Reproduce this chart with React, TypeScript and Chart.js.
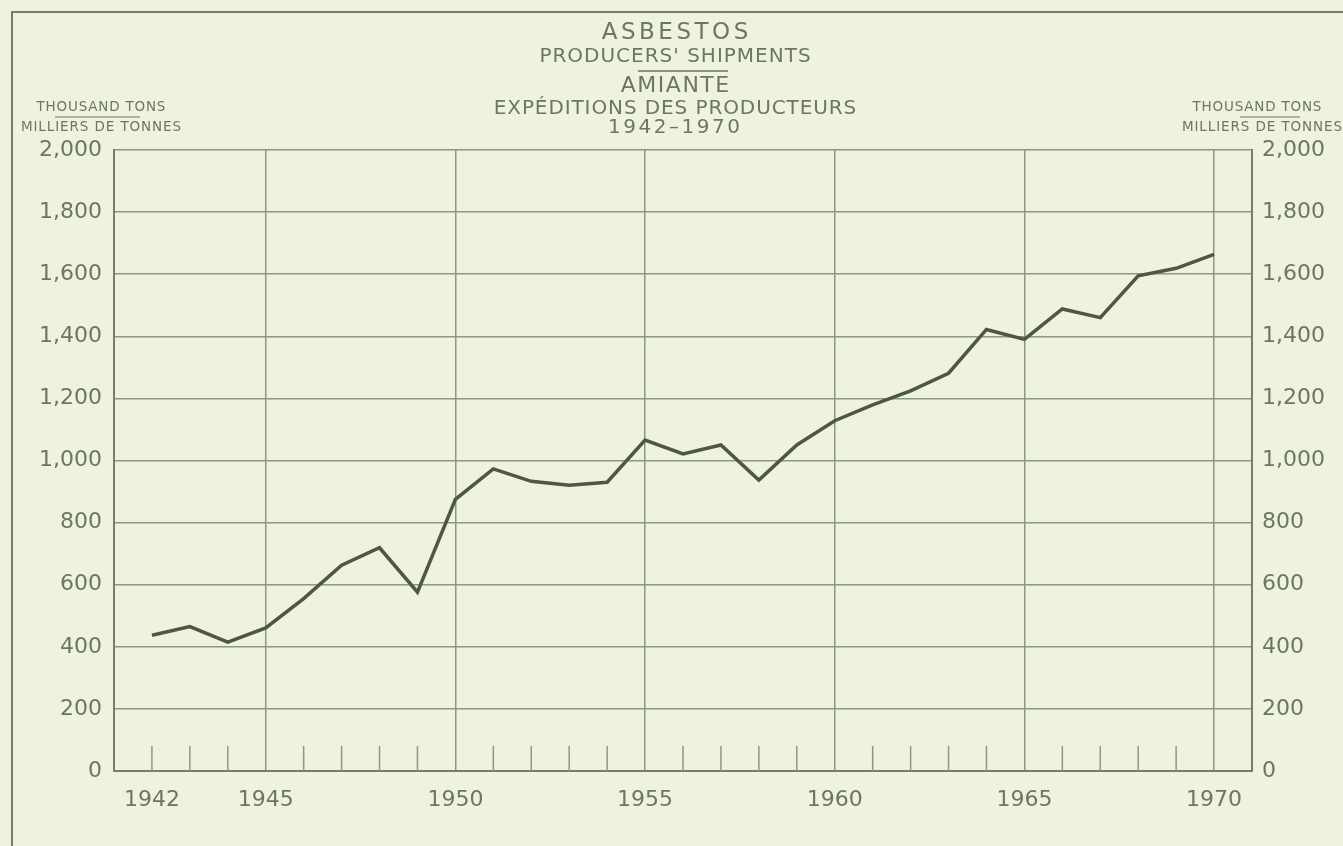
import React, { useEffect, useRef } from "react";
import { Chart, registerables } from "chart.js";

Chart.register(...registerables);

// ---- Data ----
const years = [
  1942, 1943, 1944, 1945, 1946, 1947, 1948, 1949, 1950, 1951,
  1952, 1953, 1954, 1955, 1956, 1957, 1958, 1959, 1960, 1961,
  1962, 1963, 1964, 1965, 1966, 1967, 1968, 1969, 1970,
];
const shipments = [
  437, 465, 415, 461, 555, 663, 719, 576, 875, 973,
  933, 920, 930, 1066, 1021, 1050, 937, 1050, 1128, 1179,
  1224, 1281, 1422, 1390, 1488, 1460, 1595, 1619, 1664,
];
const yTicks = [0, 200, 400, 600, 800, 1000, 1200, 1400, 1600, 1800, 2000];
const xLabelYears = [1942, 1945, 1950, 1955, 1960, 1965, 1970];
const majorGridYears = [1945, 1950, 1955, 1960, 1965, 1970];
const titleLines = [
  "ASBESTOS",
  "PRODUCERS' SHIPMENTS",
  "AMIANTE",
  "EXPÉDITIONS DES PRODUCTEURS",
  "1942–1970",
];
const unitLines = ["THOUSAND TONS", "MILLIERS DE TONNES"];

// ---- Styles ----
const FONT = "'DejaVu Sans', 'Liberation Sans', sans-serif";
const BG = "#eff2de";
const TEXT = "#6a7863";
const GRID = "#8c9886";
const FRAME = "#72806b";
const LINE = "#4c5747";

const decorPlugin = {
  id: "decor",
  beforeDraw(chart: any) {
    const ctx = chart.ctx;
    ctx.save();
    ctx.fillStyle = BG;
    ctx.fillRect(0, 0, chart.width, chart.height);
    // outer frame (left & top edges visible)
    ctx.strokeStyle = FRAME;
    ctx.lineWidth = 2;
    ctx.beginPath();
    ctx.moveTo(12, chart.height);
    ctx.lineTo(12, 12);
    ctx.lineTo(chart.width, 12);
    ctx.stroke();
    ctx.restore();
  },
  beforeDatasetsDraw(chart: any) {
    // short year tick marks rising from the base line
    const ctx = chart.ctx;
    const xs = chart.scales.x;
    const bottom = chart.chartArea.bottom;
    ctx.save();
    ctx.strokeStyle = GRID;
    ctx.lineWidth = 1.5;
    years.forEach((yr) => {
      if (majorGridYears.includes(yr)) return;
      const px = xs.getPixelForValue(yr);
      ctx.beginPath();
      ctx.moveTo(px, bottom);
      ctx.lineTo(px, bottom - 25);
      ctx.stroke();
    });
    ctx.restore();
  },
  afterDraw(chart: any) {
    const ctx = chart.ctx;
    ctx.save();
    ctx.fillStyle = TEXT;
    ctx.strokeStyle = TEXT;
    ctx.textAlign = "center";
    ctx.textBaseline = "middle";
    const put = (t: string, x: number, y: number, size: number, sp: number) => {
      ctx.font = `${size}px ${FONT}`;
      (ctx as any).letterSpacing = `${sp}px`;
      ctx.fillText(t, x + sp / 2, y);
    };
    const cx = 675;
    put(titleLines[0], cx, 33, 23, 3.5);
    put(titleLines[1], cx, 57, 20, 1);
    put(titleLines[2], cx, 86, 22, 1.5);
    put(titleLines[3], cx, 109, 20, 0.9);
    put(titleLines[4], 674, 128, 20, 2.5);
    ctx.lineWidth = 1.5;
    ctx.beginPath();
    ctx.moveTo(638, 71);
    ctx.lineTo(728, 71);
    ctx.stroke();

    // unit labels
    put(unitLines[0], 101, 107, 13.5, 0.8);
    put(unitLines[1], 101, 127, 13.5, 0.9);
    put(unitLines[0], 1257, 107, 13.5, 0.8);
    put(unitLines[1], 1262, 127, 13.5, 0.9);
    ctx.lineWidth = 1.2;
    ctx.beginPath();
    ctx.moveTo(55, 117);
    ctx.lineTo(140, 117);
    ctx.moveTo(1240, 117);
    ctx.lineTo(1300, 117);
    ctx.stroke();
    ctx.restore();
  },
};

export default function App() {
  const canvasRef = useRef<HTMLCanvasElement | null>(null);

  useEffect(() => {
    if (!canvasRef.current) return;
    const tickFont = { family: FONT, size: 22 };
    const fmt = (v: any) => Number(v).toLocaleString("en-US");
    const chart = new Chart(canvasRef.current, {
      type: "line",
      data: {
        datasets: [
          {
            label: "Shipments",
            data: years.map((yr, i) => ({ x: yr, y: shipments[i] })),
            borderColor: LINE,
            borderWidth: 3.5,
            pointRadius: 0,
            tension: 0,
            fill: false,
          },
        ],
      },
      options: {
        animation: false,
        responsive: false,
        layout: { padding: { top: 150, left: 0, right: 0, bottom: 0 } },
        plugins: { legend: { display: false }, tooltip: { enabled: false } },
        scales: {
          x: {
            type: "linear",
            min: 1941,
            max: 1971,
            afterBuildTicks: (s: any) => {
              s.ticks = years.map((v) => ({ value: v }));
            },
            afterFit: (s: any) => {
              s.height = 75;
            },
            ticks: {
              autoSkip: false,
              maxRotation: 0,
              padding: 16,
              color: TEXT,
              font: tickFont,
              callback: (v: any) => (xLabelYears.includes(Number(v)) ? String(v) : ""),
            },
            grid: {
              drawTicks: false,
              lineWidth: 1.5,
              color: (c: any) =>
                c.tick && majorGridYears.includes(c.tick.value) ? GRID : "rgba(0,0,0,0)",
            },
            border: { display: true, color: FRAME, width: 2 },
          },
          y: {
            position: "left",
            min: 0,
            max: 2000,
            afterBuildTicks: (s: any) => {
              s.ticks = yTicks.map((v) => ({ value: v }));
            },
            afterFit: (s: any) => {
              s.width = 114;
            },
            ticks: { padding: 12, color: TEXT, font: tickFont, callback: fmt },
            grid: { drawTicks: false, lineWidth: 1.5, color: GRID },
            border: { display: true, color: FRAME, width: 2 },
          },
          y2: {
            position: "right",
            min: 0,
            max: 2000,
            afterBuildTicks: (s: any) => {
              s.ticks = yTicks.map((v) => ({ value: v }));
            },
            afterFit: (s: any) => {
              s.width = 91;
            },
            ticks: { padding: 10, color: TEXT, font: tickFont, callback: fmt },
            grid: { display: false, drawTicks: false },
            border: { display: true, color: FRAME, width: 2 },
          },
        },
      },
      plugins: [decorPlugin],
    });
    return () => chart.destroy();
  }, []);

  return (
    <canvas
      ref={canvasRef}
      width={1343}
      height={846}
      style={{ position: "absolute", left: 0, top: 0, display: "block" }}
    />
  );
}
